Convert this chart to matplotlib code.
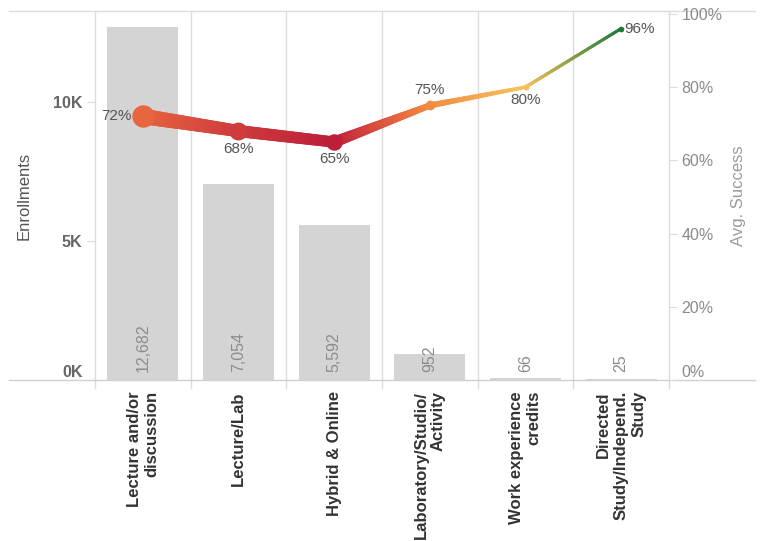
import numpy as np
import matplotlib
matplotlib.use("Agg")
import matplotlib.pyplot as plt
from matplotlib.collections import LineCollection
from matplotlib.colors import LinearSegmentedColormap, Normalize

plt.rcParams['font.family'] = ['Liberation Sans', 'DejaVu Sans']

categories = ["Lecture and/or\ndiscussion", "Lecture/Lab", "Hybrid & Online",
              "Laboratory/Studio/\nActivity", "Work experience\ncredits",
              "Directed\nStudy/Independ.\nStudy"]
enrollments = [12682, 7054, 5592, 952, 66, 25]
success = [0.72, 0.68, 0.65, 0.75, 0.80, 0.96]
enroll_ticks = [0, 5000, 10000]
enroll_tick_labels = ["0K", "5K", "10K"]
pct_ticks = [0, 0.2, 0.4, 0.6, 0.8, 1.0]
pct_tick_labels = ["0%", "20%", "40%", "60%", "80%", "100%"]

cmap = LinearSegmentedColormap.from_list(
    "rg", [(0.0, "#bd1f3a"), (0.10, "#d03e3e"), (0.23, "#e8683f"),
           (0.32, "#f28b3f"), (0.48, "#f7c15b"), (1.0, "#1b7a3a")])
norm = Normalize(min(success), max(success))

fig = plt.figure(figsize=(7.62, 5.41), dpi=100)
ax = fig.add_axes([95 / 762, 161 / 541, 574 / 762, 369 / 541])
x = np.arange(len(categories))

ax.bar(x, enrollments, width=0.74, color="#d4d4d4", zorder=2)
ax.set_xlim(-0.5, len(categories) - 0.5)
ax.set_ylim(0, 13270)
for i, v in enumerate(enrollments):
    ax.text(i, 280, f"{v:,}", rotation=90, ha="center", va="bottom",
            color="#8c8c8c", fontsize=11.5, zorder=3)

# vertical grid lines between categories
for b in np.arange(-0.5, len(categories) + 0.5):
    ax.axvline(b, color="#dcdcdc", lw=1, zorder=1, clip_on=False)
    ax.plot([b, b], [0, -0.022], transform=ax.get_xaxis_transform(),
            color="#dcdcdc", lw=1, clip_on=False)

for s in ax.spines.values():
    s.set_visible(False)
ax.plot([-0.15, 1.15], [0, 0], transform=ax.transAxes, color="#d0d0d0",
        lw=1, clip_on=False, zorder=5)
ax.plot([-0.15, 1.15], [1, 1], transform=ax.transAxes, color="#dcdcdc",
        lw=1, clip_on=False, zorder=5)

ax.set_yticks(enroll_ticks)
ax.set_yticklabels(enroll_tick_labels)
ax.tick_params(axis="y", length=6, color="#dcdcdc", labelcolor="#666666",
               labelsize=11.5, pad=3)
for lab in ax.get_yticklabels():
    lab.set_fontweight("bold")
ax.get_yticklabels()[0].set_va("bottom")
ax.set_ylabel("Enrollments", color="#555555", fontsize=12)
ax.yaxis.set_label_coords(-0.11, 0.5)

ax.set_xticks(x)
ax.set_xticklabels([])
ax.tick_params(axis="x", length=0)
for i, c in enumerate(categories):
    ax.text(i, -0.03, c, transform=ax.get_xaxis_transform(), rotation=90,
            ha="center", va="top", multialignment="right", fontsize=12,
            fontweight="bold", color="#333333")

ax2 = ax.twinx()
ax2.set_ylim(0, 1.008)
for s in ax2.spines.values():
    s.set_visible(False)
ax2.set_yticks(pct_ticks)
ax2.set_yticklabels(pct_tick_labels)
ax2.tick_params(axis="y", length=6, color="#dcdcdc", labelcolor="#8a8a8a",
                labelsize=11.5, pad=3)
ax2.get_yticklabels()[0].set_va("bottom")
ax2.set_ylabel("Avg. Success", color="#9a9a9a", fontsize=12, labelpad=6)

# line width from enrollments (pixels -> points)
widths_px = [2.5 + 13 * np.sqrt(e / max(enrollments)) for e in enrollments]
widths_pt = [w * 0.72 for w in widths_px]

segs, cols, lws = [], [], []
n = 40
for i in range(len(x) - 1):
    for k in range(n):
        t0, t1 = k / n, (k + 1) / n
        xa = x[i] + (x[i + 1] - x[i]) * t0
        xb = x[i] + (x[i + 1] - x[i]) * t1
        ya = success[i] + (success[i + 1] - success[i]) * t0
        yb = success[i] + (success[i + 1] - success[i]) * t1
        segs.append([(xa, ya), (xb, yb)])
        tm = (t0 + t1) / 2
        cols.append(cmap(norm(success[i] + (success[i + 1] - success[i]) * tm)))
        lws.append(widths_pt[i] + (widths_pt[i + 1] - widths_pt[i]) * tm)
lc = LineCollection(segs, colors=cols, linewidths=lws, capstyle="round", zorder=4)
ax2.add_collection(lc)
for i in range(len(x)):
    d = (1.35 * widths_px[i] + 1.5) * 0.72
    ax2.plot(x[i], success[i], "o", ms=d, color=cmap(norm(success[i])),
             mec="none", zorder=5)

lab_pos = [(-11, 0, "right", "center"), (0, -11, "center", "top"),
           (0, -10, "center", "top"), (0, 8, "center", "bottom"),
           (0, -6, "center", "top"), (3, 0, "left", "center")]
for i, (dx, dy, ha, va) in enumerate(lab_pos):
    ax2.annotate(f"{success[i]:.0%}", (x[i], success[i]), xytext=(dx, dy),
                 textcoords="offset pixels", ha=ha, va=va, fontsize=11,
                 color="#555555", zorder=6)

fig.savefig("out.png", dpi=100)
